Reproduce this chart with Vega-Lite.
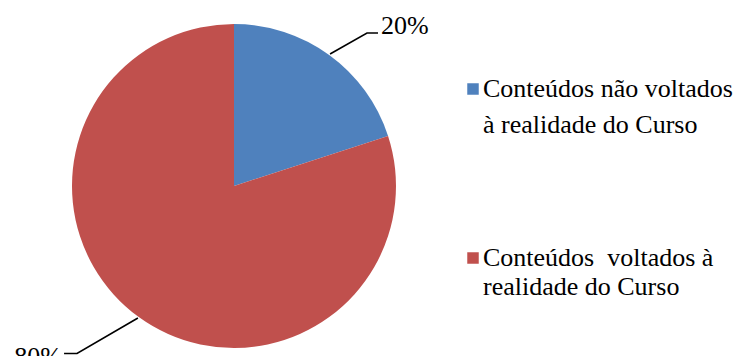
{
  "$schema": "https://vega.github.io/schema/vega-lite/v6.json",
  "width": 740,
  "height": 356,
  "padding": 0,
  "autosize": {"type": "none"},
  "background": "white",
  "config": {"view": {"stroke": null}, "font": "Liberation Serif, Times New Roman, serif"},
  "datasets": {
    "fatias": [
      {"categoria": "Conteúdos não voltados à realidade do Curso", "percentual": 20, "ordem": 1},
      {"categoria": "Conteúdos voltados à realidade do Curso", "percentual": 80, "ordem": 2}
    ],
    "guias": [
      {"linha": "a", "ponto": 1, "x": 0.593, "y": 0.815},
      {"linha": "a", "ponto": 2, "x": 0.821, "y": 0.944},
      {"linha": "a", "ponto": 3, "x": 0.889, "y": 0.944},
      {"linha": "b", "ponto": 1, "x": -0.593, "y": -0.815},
      {"linha": "b", "ponto": 2, "x": -0.969, "y": -1.034},
      {"linha": "b", "ponto": 3, "x": -1.049, "y": -1.034}
    ],
    "rotulos": [
      {"rotulo": "20%", "x": 1.055, "y": 0.938},
      {"rotulo": "80%", "x": -1.21, "y": -1.105}
    ]
  },
  "layer": [
    {
      "data": {"name": "fatias"},
      "mark": {"type": "arc", "outerRadius": 162},
      "encoding": {
        "theta": {"field": "percentual", "type": "quantitative", "stack": true},
        "order": {"field": "ordem", "type": "quantitative"},
        "x": {"datum": 0, "type": "quantitative", "scale": {"domain": [-1.4444, 3.1235], "nice": false, "zero": false}, "axis": null},
        "y": {"datum": 0, "type": "quantitative", "scale": {"domain": [-1.0494, 1.1481], "nice": false, "zero": false}, "axis": null},
        "color": {
          "field": "categoria",
          "type": "nominal",
          "scale": {
            "domain": ["Conteúdos não voltados à realidade do Curso", "Conteúdos voltados à realidade do Curso"],
            "range": ["#4F81BD", "#C0504D"]
          },
          "legend": {
            "title": null,
            "orient": "none",
            "legendX": 460,
            "legendY": 76,
            "direction": "vertical",
            "padding": 0,
            "symbolType": "square",
            "symbolSize": 132,
            "symbolStrokeWidth": 0,
            "labelFont": "Liberation Serif, Times New Roman, serif",
            "labelFontSize": 26,
            "labelColor": "#000000",
            "labelLimit": 0,
            "labelOffset": -3,
            "labelBaseline": "middle",
            "rowPadding": 107,
            "labelExpr": "datum.index == 0 ? ['Conteúdos não voltados', 'à realidade do Curso'] : ['Conteúdos\u00a0 voltados à', 'realidade do Curso']",
            "encode": {"labels": {"update": {"lineHeight": {"signal": "datum.index == 0 ? 36 : 29"}}}}
          }
        }
      }
    },
    {
      "data": {"name": "guias"},
      "mark": {"type": "line", "color": "#000000", "strokeWidth": 1.6},
      "encoding": {
        "x": {"field": "x", "type": "quantitative", "scale": {"domain": [-1.4444, 3.1235], "nice": false, "zero": false}, "axis": null},
        "y": {"field": "y", "type": "quantitative", "scale": {"domain": [-1.0494, 1.1481], "nice": false, "zero": false}, "axis": null},
        "detail": {"field": "linha", "type": "nominal"},
        "order": {"field": "ponto", "type": "quantitative"}
      }
    },
    {
      "data": {"name": "rotulos"},
      "mark": {"type": "text", "font": "Liberation Serif, Times New Roman, serif", "fontSize": 26, "align": "center", "baseline": "alphabetic", "color": "#000000"},
      "encoding": {
        "x": {"field": "x", "type": "quantitative", "scale": {"domain": [-1.4444, 3.1235], "nice": false, "zero": false}, "axis": null},
        "y": {"field": "y", "type": "quantitative", "scale": {"domain": [-1.0494, 1.1481], "nice": false, "zero": false}, "axis": null},
        "text": {"field": "rotulo", "type": "nominal"}
      }
    }
  ]
}
